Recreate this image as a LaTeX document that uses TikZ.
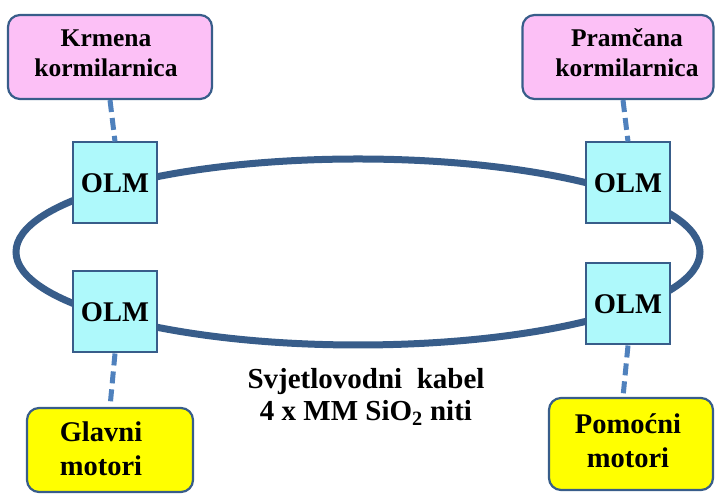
\documentclass[tikz,border=0pt]{standalone}
\usepackage{fontspec}
\setmainfont{Liberation Serif}[BoldFont={Liberation Serif Bold}]
\newfontfamily\tnrb{Liberation Serif Bold}
\usetikzlibrary{calc}
\definecolor{edgeblue}{RGB}{56,93,138}
\definecolor{dashblue}{RGB}{79,129,189}
\definecolor{olmfill}{RGB}{174,249,251}
\definecolor{pinkfill}{RGB}{252,192,246}
\definecolor{yellowfill}{RGB}{255,255,0}
\tikzset{
  box/.style={draw=edgeblue, line width=2.2pt, rounded corners=12pt, inner sep=0pt},
  pinkbox/.style={box, fill=pinkfill},
  yellowbox/.style={box, fill=yellowfill},
  olmbox/.style={draw=edgeblue, line width=2pt, fill=olmfill, minimum width=84pt, minimum height=81pt, inner sep=0pt,
    font=\tnrb\fontsize{28.5}{30}\selectfont},
  boxtext/.style={align=center, inner sep=0pt, font=\tnrb\fontsize{25.5}{30}\selectfont},
  bigboxtext/.style={align=center, inner sep=0pt, font=\tnrb\fontsize{28.5}{34}\selectfont},
  ring/.style={draw=edgeblue, line width=7pt},
  link/.style={draw=dashblue, line width=5pt, dash pattern=on 12pt off 6pt}
}
\begin{document}
\begin{tikzpicture}[x=1pt,y=1pt]
\useasboundingbox (0,0) rectangle (715,494);
% ring cable
\draw[ring] (358,242) ellipse [x radius=342, y radius=93];
% boxes
\node[pinkbox, minimum width=204pt, minimum height=84pt] (krm) at (110,437) {};
\node[pinkbox, minimum width=191pt, minimum height=84pt] (pram) at (618,437) {};
\node[yellowbox, minimum width=166pt, minimum height=84pt] (glav) at (110,44) {};
\node[yellowbox, minimum width=164pt, minimum height=92pt] (pomo) at (631,50) {};
\node[boxtext] (krmt) at (106,441) {Krmena\\kormilarnica};
\node[boxtext] (pramt) at (627,441) {Pramčana\\kormilarnica};
\node[bigboxtext] (glavt) at (101,45) {Glavni\\motori};
\node[bigboxtext] (pomot) at (628,53) {Pomoćni\\motori};
% OLM modules
\node[olmbox] (olm1) at (115,311) {OLM};
\node[olmbox] (olm2) at (115,182) {OLM};
\node[olmbox] (olm3) at (628,311) {OLM};
\node[olmbox] (olm4) at (628,190) {OLM};
% dashed links
\draw[link] (krm.south) -- (olm1.north);
\draw[link] (olm2.south) -- (glav.north);
\draw[link] ([xshift=5pt]pram.south) -- (olm3.north);
\draw[link] (olm4.south) -- ([xshift=-8pt]pomo.north);
% cable label
\node[align=center, inner sep=0pt, font=\tnrb\fontsize{29}{32}\selectfont] (cab) at (366,97)
  {Svjetlovodni\ \ kabel\\4 x MM SiO\textsubscript{2} niti};
\end{tikzpicture}
\end{document}
